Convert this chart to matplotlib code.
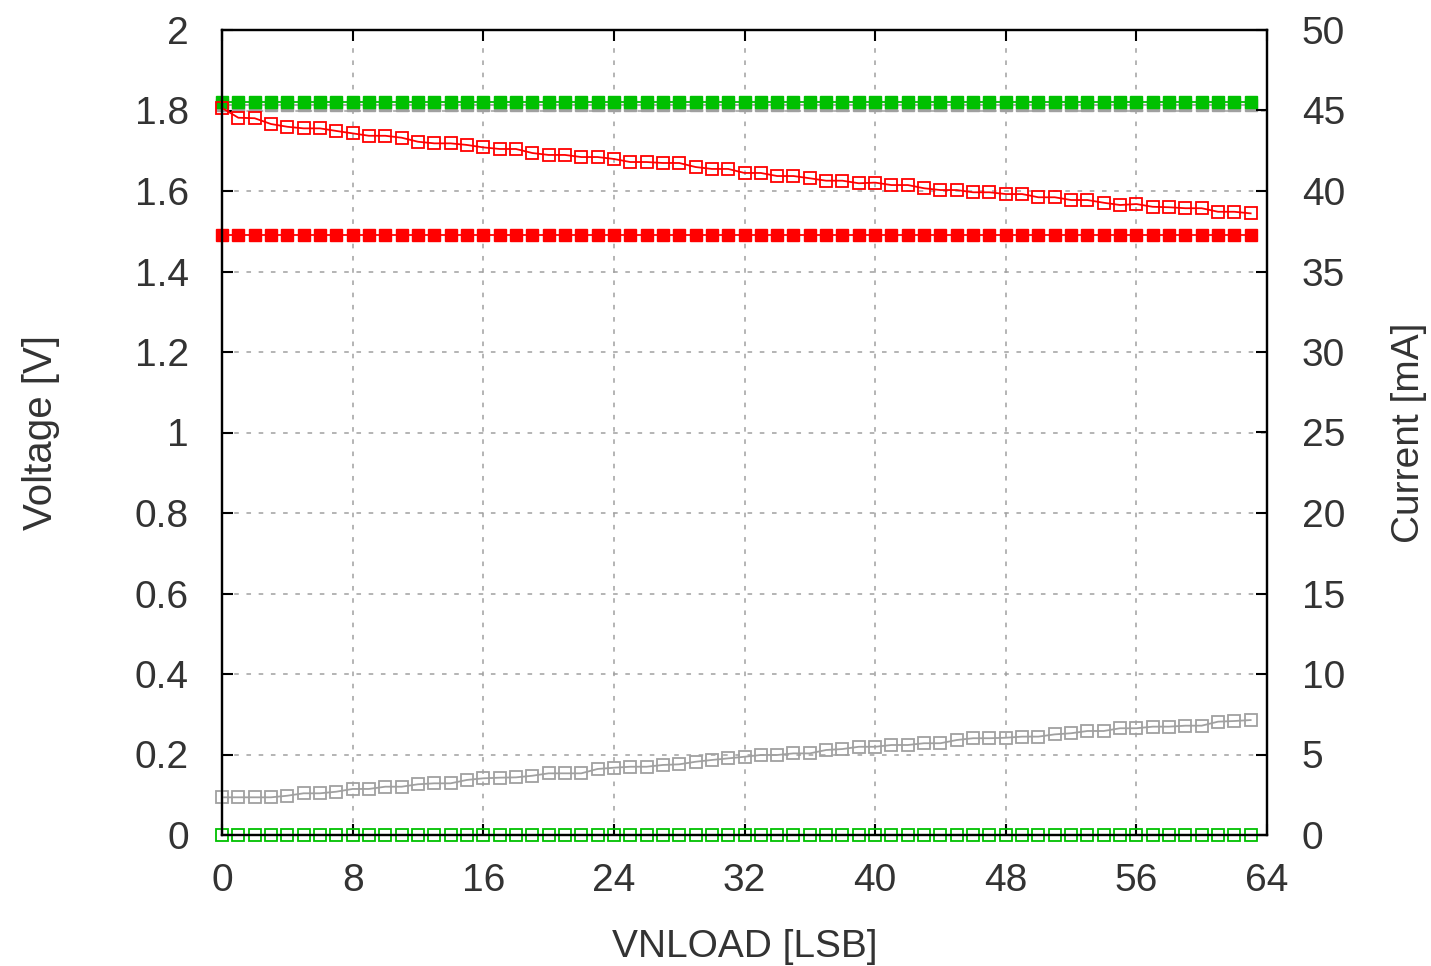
import matplotlib.pyplot as plt

plt.rcParams['font.family'] = ['Liberation Sans', 'DejaVu Sans']

# VNLOAD code sweep
vnload = list(range(64))

# supply / regulator voltages [V]
v_green = [1.82] * 64
v_gray = [1.814] * 64
v_red = [1.49] * 64

# currents [mA]
i_red = [45.16, 44.55, 44.52, 44.16, 43.99, 43.89, 43.89, 43.73, 43.58, 43.43,
         43.43, 43.31, 43.06, 42.96, 42.96, 42.86, 42.71, 42.61, 42.61, 42.36,
         42.24, 42.24, 42.11, 42.11, 41.99, 41.80, 41.80, 41.74, 41.74, 41.49,
         41.37, 41.37, 41.12, 41.12, 40.93, 40.93, 40.79, 40.64, 40.64, 40.48,
         40.52, 40.37, 40.37, 40.17, 40.06, 40.06, 39.92, 39.92, 39.81, 39.81,
         39.61, 39.61, 39.44, 39.44, 39.27, 39.13, 39.19, 39.02, 38.99, 38.93,
         38.93, 38.71, 38.71, 38.61]
i_gray = [2.34, 2.34, 2.34, 2.34, 2.44, 2.59, 2.59, 2.69, 2.86, 2.86,
          3.00, 3.00, 3.15, 3.21, 3.21, 3.42, 3.52, 3.56, 3.58, 3.68,
          3.83, 3.83, 3.83, 4.10, 4.18, 4.24, 4.24, 4.35, 4.39, 4.55,
          4.66, 4.76, 4.86, 4.97, 4.97, 5.07, 5.07, 5.28, 5.34, 5.48,
          5.48, 5.59, 5.59, 5.70, 5.70, 5.90, 6.01, 6.01, 6.04, 6.11,
          6.11, 6.25, 6.32, 6.46, 6.46, 6.63, 6.63, 6.73, 6.73, 6.79,
          6.79, 7.04, 7.08, 7.14]
i_green = [0.0] * 64

green = '#00c000'
red = '#ff0000'
gray = '#a0a0a0'

fig = plt.figure(figsize=(14.31, 9.66), dpi=100)
ax = fig.add_axes([222 / 1431, 1 - 835 / 966, (1267 - 222) / 1431, (835 - 30) / 966])
ax2 = ax.twinx()

ms = 8
lw = 1.3

ax.plot(vnload, v_gray, color=gray, marker='s', ms=ms, lw=lw, clip_on=False)
ax.plot(vnload, v_green, color=green, marker='s', ms=ms, lw=lw, clip_on=False)
ax.plot(vnload, v_red, color=red, marker='s', ms=ms, lw=lw, clip_on=False)

ax2.plot(vnload, i_red, color=red, marker='s', ms=ms, mfc='none', mew=1.3, lw=lw, clip_on=False)
ax2.plot(vnload, i_gray, color=gray, marker='s', ms=ms, mfc='none', mew=1.3, lw=lw, clip_on=False)
ax2.plot(vnload, i_green, color=green, marker='s', ms=ms, mfc='none', mew=1.3, lw=lw, clip_on=False)

ax.set_xlim(0, 64)
ax.set_ylim(0, 2)
ax2.set_ylim(0, 50)
ax.set_xticks(range(0, 65, 8))
ax.set_yticks([0, 0.2, 0.4, 0.6, 0.8, 1, 1.2, 1.4, 1.6, 1.8, 2])
ax.set_yticklabels(['0', '0.2', '0.4', '0.6', '0.8', '1', '1.2', '1.4', '1.6', '1.8', '2'])
ax2.set_yticks(range(0, 51, 5))

ax.grid(True, color='#a0a0a0', linestyle=(0, (3, 5)), linewidth=1.1)

tc = '#333333'
ax.tick_params(axis='both', direction='in', length=8, width=1.5, labelsize=28,
               labelcolor=tc, top=True)
ax.tick_params(axis='y', right=False, pad=24)
ax.tick_params(axis='x', pad=20)
ax2.tick_params(axis='y', direction='in', length=8, width=1.5, labelsize=28,
                labelcolor=tc, pad=25)

for a in (ax, ax2):
    for s in a.spines.values():
        s.set_linewidth(1.6)

ax.set_xlabel('VNLOAD [LSB]', fontsize=28, color=tc, labelpad=22)
ax.set_ylabel('Voltage [V]', fontsize=29, color=tc, labelpad=54)
ax2.set_ylabel('Current [mA]', fontsize=28, color=tc, labelpad=33)

plt.savefig('out.png', dpi=100)
